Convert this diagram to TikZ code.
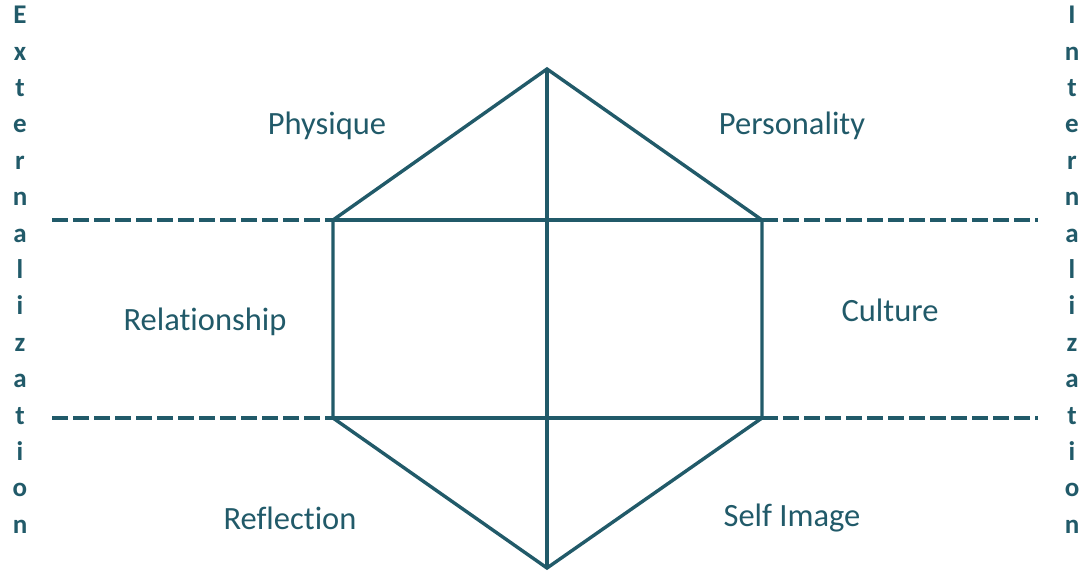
\documentclass[tikz,border=0pt]{standalone}
\usepackage{fontspec}
\setmainfont{Carlito}[Ligatures=NoCommon]
\definecolor{teal1}{HTML}{215A69}
\begin{document}
\begin{tikzpicture}[x=1pt,y=-1pt,
  edge/.style={draw=teal1,line width=3.4pt,line join=miter},
  dashline/.style={draw=teal1,line width=4pt,dash pattern=on 16pt off 5pt},
  lbl/.style={text=teal1,font=\fontsize{32.5}{34}\selectfont,inner sep=0pt,anchor=center},
  vert/.style={text=teal1,font=\bfseries\fontsize{27}{36.4}\selectfont,align=center,inner sep=0pt,anchor=north}]
\useasboundingbox (0,0) rectangle (1083,571);
\coordinate (T) at (547,69);
\coordinate (UL) at (333,220);
\coordinate (UR) at (762,220);
\coordinate (LL) at (333,418);
\coordinate (LR) at (762,418);
\coordinate (B) at (547,568);
\coordinate (DL1) at (52,220);
\coordinate (DL2) at (52,418);
\coordinate (DR1) at (1038,220);
\coordinate (DR2) at (1038,418);
\draw[edge] (T) -- (UR) -- (LR) -- (B) -- (LL) -- (UL) -- cycle;
\draw[edge] (T) -- (B);
\draw[edge] (UL) -- (UR);
\draw[edge] (LL) -- (LR);
\draw[dashline] (DL1) -- (UL);
\draw[dashline] (DL2) -- (LL);
\draw[dashline] (UR) -- (DR1);
\draw[dashline] (LR) -- (DR2);
\node[lbl] (phys) at (327,126) {Physique};
\node[lbl] (pers) at (792,126) {Personality};
\node[lbl] (rel) at (205,322) {Relationship};
\node[lbl] (cult) at (890,310) {Culture};
\node[lbl] (refl) at (290,518) {Reflection};
\node[lbl] (self) at (792,518) {Self Image};
\node[vert] (ext) at (20,6) {E\\x\\t\\e\\r\\n\\a\\l\\i\\z\\a\\t\\i\\o\\n};
\node[vert] (int) at (1072,6) {I\\n\\t\\e\\r\\n\\a\\l\\i\\z\\a\\t\\i\\o\\n};
\end{tikzpicture}
\end{document}
